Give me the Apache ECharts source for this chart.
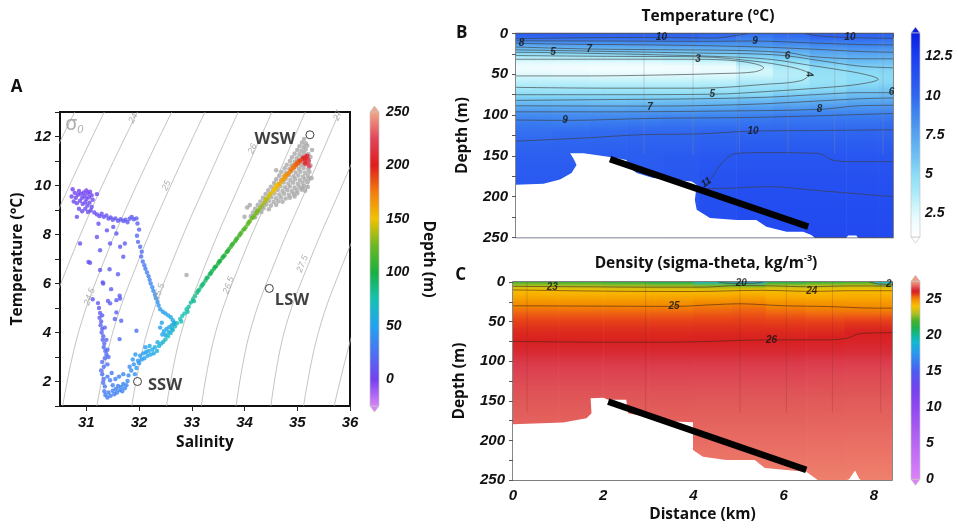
<!DOCTYPE html>
<html><head><meta charset="utf-8">
<script src="https://cdn.jsdelivr.net/npm/echarts@6/dist/echarts.min.js"></script>
<style>html,body{margin:0;padding:0;background:#fff}#c{width:958px;height:528px}</style>
</head><body><div id="c"></div>
<script>
// ---------------- Panel A data ----------------
const salTicks = [31,32,33,34,35,36];
const cbDepthTicks = [0,50,100,150,200,250];
const isoSigma = ['23','23.5','24','24.5','25','25.5','26','26.5','27','27.5','28','28.5'];
const isoLines = [
 [[29.5,7],[30.1,10],[30.78,13]],
 [[29.6,4],[30.08,7],[30.68,10],[31.34,13]],
 [[29.9,1],[30.2,4],[30.7,7],[31.3,10],[31.97,13]],
 [[30.55,1],[30.85,4],[31.35,7],[31.95,10],[32.62,13]],
 [[31.2,1],[31.5,4],[32.0,7],[32.6,10],[33.25,13]],
 [[31.86,1],[32.15,4],[32.65,7],[33.25,10],[33.88,13]],
 [[32.52,1],[32.8,4],[33.3,7],[33.9,10],[34.52,13]],
 [[33.18,1],[33.45,4],[33.95,7],[34.55,10],[35.15,13]],
 [[33.84,1],[34.1,4],[34.6,7],[35.2,10],[35.8,13]],
 [[34.5,1],[34.75,4],[35.25,7],[35.85,10],[36.45,13]],
 [[35.12,1],[35.4,4],[35.9,7],[36.5,10]],
 [[35.7,1],[36.05,4],[36.5,7]]
];
const isoLabelText = ['24','25','26','27','24.5','25.5','26.5','27.5'];
const isoLabelPos = [[31.89,12.75],[32.52,10.0],[34.15,11.5],[35.77,12.85],[31.06,5.46],[32.38,5.66],[33.7,5.93],[35.1,6.8]];
const isoLabelRot = [64,66,66,64,70,70,70,68];

const tsGray = [
[34.0,8.72],[34.12,8.75],[34.2,8.7],
[34.16,8.9],[34.24,8.86],[34.32,8.92],
[34.2,9.05],[34.28,9.02],[34.36,9.07],[34.46,9.03],
[34.25,9.2],[34.33,9.17],[34.41,9.22],[34.5,9.18],[34.6,9.21],
[34.3,9.35],[34.38,9.32],[34.46,9.37],[34.55,9.33],[34.64,9.36],[34.72,9.34],
[34.35,9.5],[34.43,9.47],[34.51,9.52],[34.6,9.48],[34.69,9.51],[34.78,9.47],[34.86,9.5],
[34.4,9.65],[34.48,9.62],[34.57,9.67],[34.66,9.63],[34.75,9.66],[34.84,9.62],[34.93,9.65],[35.0,9.68],
[34.45,9.8],[34.54,9.77],[34.63,9.82],[34.72,9.78],[34.81,9.81],[34.9,9.77],[34.99,9.8],[35.08,9.83],[35.15,9.79],
[34.5,9.95],[34.59,9.92],[34.68,9.97],[34.77,9.93],[34.86,9.96],[34.95,9.92],[35.04,9.95],[35.13,9.98],[35.2,9.94],
[34.56,10.1],[34.65,10.07],[34.74,10.12],[34.83,10.08],[34.92,10.11],[35.01,10.07],[35.1,10.1],[35.19,10.13],
[34.6,10.25],[34.69,10.22],[34.78,10.27],[34.87,10.23],[34.96,10.26],[35.05,10.22],[35.14,10.25],[35.22,10.28],
[34.66,10.4],[34.75,10.37],[34.84,10.42],[34.93,10.38],[35.02,10.41],[35.11,10.37],[35.2,10.4],
[34.7,10.55],[34.79,10.52],[34.88,10.57],[34.97,10.53],[35.06,10.56],[35.15,10.52],[35.23,10.55],
[34.76,10.7],[34.85,10.67],[34.94,10.72],[35.03,10.68],[35.12,10.71],[35.21,10.67],
[34.8,10.85],[34.89,10.82],[34.98,10.87],[35.07,10.83],[35.16,10.86],[35.25,10.82],
[34.86,11.0],[34.95,10.97],[35.04,11.02],[35.13,10.98],[35.22,11.01],
[34.9,11.15],[34.99,11.12],[35.08,11.17],[35.17,11.13],[35.25,11.16],
[34.95,11.3],[35.04,11.27],[35.13,11.32],[35.21,11.28],
[35.0,11.45],[35.08,11.42],[35.16,11.47],
[35.04,11.6],[35.12,11.57],[35.19,11.62],
[35.09,11.75],[35.16,11.72],[35.13,11.9],
[32.9,6.35],[34.05,9.1],[34.1,9.2],[35.28,11.45],[35.27,10.3],[34.6,10.62],[35.1,9.9],[34.95,9.55]
];

// [salinity, temperature, depth]
const tsColor = [
[30.72,9.55,1],[30.74,9.85,1],[30.78,9.7,2],[30.8,9.5,2],[30.84,9.62,1],[30.86,9.78,2],[30.9,9.66,2],[30.92,9.5,3],[30.95,9.72,1],[30.97,9.58,2],[31.0,9.8,1],[31.0,9.45,3],[31.03,9.68,2],[31.05,9.52,3],[31.07,9.75,2],[31.1,9.6,3],[31.12,9.42,4],[31.2,9.65,3],[30.76,9.35,4],[30.82,9.28,4],[30.88,9.38,3],[30.93,9.25,4],[30.98,9.32,4],[31.02,9.18,5],[31.06,9.3,4],[31.1,9.12,5],[30.86,9.05,5],[30.92,8.95,6],[30.98,9.05,5],[31.03,8.92,6],[31.08,8.98,6],[31.15,8.9,7],
[31.2,8.82,7],[31.25,8.75,8],[31.29,8.85,8],[31.33,8.72,9],[31.38,8.78,9],[31.42,8.65,10],[31.46,8.7,10],[31.5,8.6,11],[31.55,8.66,11],[31.6,8.56,12],[31.65,8.62,12],[31.7,8.55,13],[31.74,8.6,13],[31.78,8.5,14],[31.82,8.64,14],[31.86,8.72,15],[31.9,8.62,15],[31.95,8.66,16],[31.97,8.45,17],
[30.82,8.72,6],[30.88,7.63,8],[31.04,6.88,10],[31.2,7.9,9],[31.26,7.36,11],[31.23,8.44,8],[31.39,8.17,10],[31.51,8.31,11],[31.57,8.04,12],[31.45,7.63,12],[31.64,7.5,13],[31.7,7.09,14],[31.26,6.55,12],[31.32,6.0,13],[31.57,5.32,15],[31.64,5.39,15],[31.45,5.19,14],[31.73,7.63,14],[31.07,6.85,10],[31.31,6.04,13],[31.44,6.58,13],[31.6,6.38,14],[31.63,5.5,15],[31.57,4.82,17],[31.66,4.48,18],[31.63,3.73,21],[31.95,4.07,24],[31.54,4.55,17],[31.12,5.36,12],[31.41,5.29,14],[31.47,5.77,14],
[31.24,5.0,12],[31.26,4.8,13],[31.25,4.6,14],[31.28,4.45,15],[31.27,4.3,15],[31.3,4.15,16],[31.29,4.0,17],[31.32,3.85,18],[31.31,3.7,18],[31.34,3.55,19],[31.33,3.4,20],[31.36,3.25,21],[31.38,3.1,22],[31.35,2.95,22],[31.3,2.8,22],[31.33,2.6,23],[31.28,2.45,23],[31.3,2.3,24],[31.33,2.1,25],[31.32,1.95,26],[31.35,1.8,27],[31.34,1.6,28],[31.36,1.45,29],[31.4,1.35,30],[31.22,5.2,12],[31.3,4.7,14],[31.35,4.2,17],[31.38,3.7,19],[31.4,3.3,21],[31.42,3.0,23],[31.4,2.7,24],
[31.42,1.55,30],[31.46,1.42,31],[31.5,1.62,31],[31.53,1.48,32],[31.56,1.7,32],[31.58,1.55,33],[31.6,1.82,33],[31.63,1.65,34],[31.66,1.78,34],[31.68,1.6,35],[31.7,1.9,35],[31.73,1.72,36],[31.76,1.85,36],[31.78,2.02,37],[31.5,1.85,31],[31.45,2.05,30],[31.55,2.1,32],[31.62,2.2,33],[31.4,2.2,29],[31.48,2.35,30],[31.7,2.3,35],[31.8,2.25,38],[31.85,2.45,40],[31.9,2.7,41],[31.88,2.9,42],[31.92,2.3,41],[31.95,2.55,43],[31.98,2.85,44],[31.82,2.6,39],[31.93,3.1,44],
[32.0,2.75,45],[32.02,3.05,46],[32.05,2.9,47],[32.08,3.15,48],[32.1,2.95,49],[32.13,3.2,50],[32.16,3.05,51],[32.18,3.25,52],[32.22,3.1,54],[32.25,3.3,55],[32.28,3.15,57],[32.3,3.4,58],[32.34,3.25,60],[32.38,3.45,62],[32.42,3.55,63],[32.46,3.62,64],[32.5,3.72,66],[32.55,3.85,67],[32.6,3.98,69],[32.64,4.1,70],[32.68,4.25,71],[32.72,4.38,72],[32.2,3.45,53],[32.35,3.6,58],[32.12,3.4,50],
[32.0,8.2,18],[31.96,7.95,19],[31.98,7.7,20],[32.02,7.5,21],[32.05,7.3,22],[32.04,7.1,24],[32.07,6.9,26],[32.1,6.75,28],[32.12,6.6,30],[32.15,6.45,32],[32.18,6.3,33],[32.2,6.15,34],[32.22,6.0,35],[32.25,5.85,37],[32.27,5.7,38],[32.3,5.55,40],[32.32,5.4,41],[32.35,5.25,42],[32.37,5.1,43],[32.4,4.95,45],[32.45,4.85,46],[32.5,4.78,48],[32.55,4.7,50],[32.6,4.62,52],[32.64,4.5,54],[32.67,4.4,55],[32.62,4.3,56],[32.57,4.22,55],[32.52,4.15,54],[32.47,4.05,53],[32.44,3.92,52],[32.5,3.9,56],[32.56,4.02,58],[32.62,4.15,60],[32.66,4.35,62],[32.43,4.4,50],[32.4,4.2,48],
[32.78,4.55,73],[32.82,4.68,74],[32.86,4.78,75],[32.9,4.95,77],[32.94,5.05,78],[32.98,5.22,80],[33.02,5.35,81],[33.06,5.48,83],[33.1,5.62,84],[33.14,5.75,86],[33.18,5.88,87],[33.22,6.0,89],[33.26,6.12,90],[33.3,6.25,92],[33.34,6.38,93],[33.38,6.5,95],[33.42,6.6,96],[33.46,6.7,98],[33.5,6.82,99],[33.54,6.93,101],[33.58,7.05,102],[33.62,7.15,104],[33.66,7.28,105],[33.7,7.4,107],[33.74,7.5,108],[33.78,7.62,110],[33.82,7.72,111],[33.86,7.85,113],[33.9,7.96,114],[33.94,8.08,116],[33.98,8.2,117],[34.02,8.3,119],[34.06,8.42,120],[34.1,8.54,122],[34.14,8.66,123],[34.18,8.76,125],[34.22,8.88,127],[34.26,8.98,129],[34.3,9.1,131],
[32.8,4.45,73],[32.92,4.85,77],[33.04,5.28,82],[33.12,5.7,85],[33.2,5.95,88],[33.28,6.22,91],[33.36,6.42,94],[33.44,6.68,97],[33.52,6.9,100],[33.6,7.1,103],[33.68,7.32,106],[33.76,7.58,109],[33.84,7.8,112],[33.92,8.02,115],[34.0,8.22,118],[34.08,8.5,121],[34.16,8.7,124],[34.24,8.95,128],
[34.34,9.2,134],[34.38,9.32,137],[34.42,9.44,140],[34.46,9.55,143],[34.5,9.66,146],[34.54,9.76,149],[34.58,9.86,152],[34.62,9.96,155],[34.66,10.06,158],[34.7,10.16,161],[34.74,10.26,164],[34.78,10.36,167],[34.82,10.46,170],[34.86,10.55,173],[34.9,10.65,176],[34.94,10.74,179],[34.98,10.83,182],[35.02,10.92,186],[35.06,11.0,190],[35.1,11.08,195],
[34.4,9.45,139],[34.48,9.65,145],[34.56,9.85,151],[34.64,10.05,157],[34.72,10.25,163],[34.8,10.45,169],[34.88,10.65,175],[34.96,10.85,181],[35.04,11.02,188],[34.6,10.0,152],[34.76,10.4,165],[34.92,10.78,177],[35.0,10.95,183],
[35.12,11.15,200],[35.15,11.05,205],[35.17,11.2,210],[35.18,10.95,214],[35.2,11.1,218],[35.21,10.85,220],[35.22,11.0,224],[35.14,10.9,202],[35.19,11.22,212],[35.23,10.78,226],[35.16,11.12,208]
];
const wmNames = ['WSW','LSW','SSW'];
const wmSal = [35.24,34.47,31.97];
const wmTemp = [12.07,5.8,2.0];

// ---------------- Sections B & C ----------------
const levels = [0,5,10,15,20,25,30,35,40,45,50,55,60,65,70,75,80,90,100,110,120,135,150,175,200,225,250];
const bDist = [0.4,1.2,2.0,2.8,3.6,4.4,5.2,6.0,6.8,7.6,8.2];
const bTemp = [
 [10.6,10.0,8.6,7.3,6.2,5.0,3.6,2.5,2.0,2.0,2.4,3.1,3.5,3.9,4.4,5.0,5.8,7.2,8.6,9.3,9.7,10.1,10.5,10.8,10.9,11.0,11.0],
 [10.6,10.0,8.7,7.5,6.4,5.1,3.7,2.5,1.9,1.9,2.3,3.0,3.5,3.9,4.4,5.0,5.8,7.1,8.5,9.2,9.8,10.2,10.5,10.8,10.9,11.0,11.0],
 [10.5,10.0,8.8,7.6,6.5,5.2,3.8,2.4,1.8,1.8,2.2,2.9,3.4,3.9,4.4,5.0,5.7,7.0,8.5,9.3,9.9,10.3,10.6,10.8,10.9,11.0,11.0],
 [10.5,10.1,8.9,7.7,6.6,5.4,3.9,2.5,1.8,1.8,2.2,2.9,3.4,3.9,4.4,5.0,5.8,7.1,8.6,9.4,10.0,10.4,10.6,10.8,10.9,11.0,11.0],
 [10.5,10.0,8.9,7.8,6.7,5.6,4.1,2.7,1.9,1.9,2.3,2.9,3.4,3.9,4.4,5.0,5.8,7.2,8.7,9.5,10.0,10.4,10.7,10.9,11.0,11.1,11.2],
 [10.2,9.7,8.8,7.8,6.8,5.8,4.4,3.0,2.2,2.1,2.4,3.0,3.5,4.0,4.5,5.1,5.9,7.3,8.8,9.5,10.1,10.5,10.9,11.2,11.4,11.5,11.6],
 [9.9,9.2,8.6,8.0,7.0,6.0,5.2,4.2,3.2,2.8,2.9,3.4,3.9,4.3,4.8,5.2,6.1,7.6,9.0,9.6,10.1,10.6,11.0,11.3,11.5,11.7,11.8],
 [10.1,9.6,9.0,8.2,7.3,6.5,5.6,4.7,4.0,3.7,3.6,3.7,4.0,4.5,5.0,5.7,6.4,7.8,9.2,9.7,10.1,10.6,11.0,11.3,11.5,11.7,11.8],
 [10.5,10.1,9.3,8.6,7.8,7.2,6.6,5.9,5.2,4.8,4.6,4.5,4.6,4.9,5.3,5.9,6.6,8.0,9.1,9.7,10.1,10.6,11.0,11.3,11.5,11.7,11.8],
 [10.4,10.0,9.4,8.8,8.1,7.5,6.9,6.3,5.6,5.2,4.95,4.9,5.0,5.3,5.8,6.3,7.0,8.1,9.1,9.7,10.1,10.6,11.0,11.3,11.5,11.7,11.8],
 [10.3,9.9,9.3,8.7,8.0,7.4,6.8,6.2,5.7,5.3,5.1,5.05,5.2,5.6,6.0,6.5,7.1,8.2,9.2,9.8,10.1,10.6,11.0,11.3,11.5,11.7,11.8]
];
const cDist = [0.5,1.5,2.5,3.5,4.5,5.2,6.0,7.0,7.7,8.3];
const cDens = [
 [21.8,23.1,23.95,24.3,24.55,24.8,25.0,25.2,25.38,25.52,25.65,25.75,25.84,25.91,25.96,26.0,26.1,26.28,26.42,26.5,26.56,26.63,26.7,26.8,26.9,27.0,27.1],
 [21.6,23.0,23.9,24.28,24.55,24.8,24.98,25.2,25.38,25.52,25.65,25.75,25.84,25.9,25.95,25.99,26.1,26.28,26.42,26.5,26.56,26.63,26.7,26.8,26.9,27.0,27.1],
 [21.4,22.9,23.85,24.28,24.55,24.8,24.98,25.2,25.38,25.52,25.65,25.75,25.84,25.9,25.95,25.99,26.09,26.27,26.41,26.49,26.56,26.63,26.7,26.8,26.9,27.0,27.1],
 [21.0,22.8,23.85,24.3,24.58,24.82,25.0,25.2,25.38,25.52,25.65,25.75,25.84,25.9,25.95,25.99,26.09,26.27,26.41,26.49,26.56,26.63,26.7,26.8,26.9,27.0,27.1],
 [19.5,22.6,23.8,24.3,24.62,24.9,25.1,25.28,25.42,25.55,25.67,25.77,25.85,25.92,25.97,26.01,26.1,26.28,26.42,26.5,26.57,26.64,26.71,26.81,26.91,27.0,27.1],
 [18.5,22.5,23.9,24.35,24.65,24.95,25.15,25.32,25.45,25.57,25.68,25.78,25.86,25.92,25.97,26.01,26.1,26.28,26.42,26.5,26.57,26.64,26.71,26.81,26.91,27.0,27.1],
 [21.0,23.0,23.85,24.25,24.52,24.78,24.98,25.18,25.37,25.52,25.65,25.76,25.85,25.92,25.97,26.01,26.1,26.28,26.42,26.5,26.57,26.64,26.71,26.81,26.91,27.0,27.1],
 [21.5,23.2,23.9,24.25,24.5,24.72,24.92,25.1,25.3,25.47,25.62,25.74,25.84,25.92,26.0,26.05,26.13,26.3,26.44,26.52,26.58,26.65,26.72,26.82,26.92,27.01,27.1],
 [21.8,23.3,24.0,24.3,24.5,24.7,24.9,25.08,25.3,25.5,25.68,25.82,25.93,26.0,26.05,26.1,26.18,26.32,26.45,26.53,26.59,26.66,26.73,26.83,26.93,27.02,27.1],
 [19.0,23.0,24.0,24.3,24.5,24.7,24.88,25.06,25.28,25.5,25.68,25.82,25.93,26.0,26.05,26.1,26.18,26.32,26.45,26.53,26.59,26.66,26.73,26.83,26.93,27.02,27.1]
];
const depthTicks = [0,50,100,150,200,250];
const cbTempTicks = [2.5,5,7.5,10,12.5];
const cbDensTicks = [0,5,10,15,20,25];

const bMask = [[0,185.5],[0.6,184],[0.96,179],[1.21,171],[1.32,161],[1.25,153],[1.18,146.6],[1.47,146.6],[2.05,151.5],[2.41,155],[2.45,163],[2.63,171],[2.99,177],[3.36,179],[3.83,181.4],[3.94,185.5],[3.9,204],[3.94,216],[4.23,226],[4.81,228.5],[5.24,228.5],[5.46,236.7],[5.9,243],[6.26,243],[6.44,247],[6.55,252],[0,252]];
const bBump = [[7.18,252],[7.24,247.5],[7.42,247.5],[7.48,252]];
const cMask = [[0,179.6],[1.11,177.5],[1.63,172],[1.74,165.7],[1.72,146.7],[2.0,146],[2.11,148.8],[2.51,148.8],[2.55,165.7],[3.1,172],[3.55,176],[3.99,177],[3.99,212],[4.21,220.5],[4.73,224.7],[5.36,224.7],[5.58,235],[6.06,237.3],[6.5,239.5],[6.73,249],[6.8,252],[0,252]];
const cBump = [[7.3,252],[7.45,249],[7.58,238],[7.68,249],[7.78,252]];
const bSlope = [[2.05,154],[6.37,236.7]];
const cSlope = [[2.11,151],[6.5,237.3]];
const bStations = [2.79,3.86,4.87,5.93,6.95,8.0];
const cStations = [0.31,2.94,5.03,6.06,7.08,8.15];

const bContours = [
 [[0,6.5],[1.5,5.2],[3.17,4.9],[4.3,5.6],[4.8,2.5],[5.05,0]],
 [[6.3,0],[6.6,3],[7.28,5],[8.22,6]],
 [[0,9],[2,9.2],[4,9.6],[5.21,9.2],[6.4,11.5],[7.5,13.5],[8.22,14]],
 [[0,11.9],[1,13],[3,14],[5,16],[6.4,19],[7.5,22],[8.22,23]],
 [[0,16.5],[1.6,19],[3.5,20],[5.0,21],[6.0,24],[6.4,28],[7.5,31],[8.22,31]],
 [[0,20],[2,22],[4,24],[5.2,25],[5.92,27.5],[6.6,33],[7.5,40],[8.22,42]],
 [[0,23],[0.81,23.5],[3,26],[4.8,29],[5.6,32],[6.3,38],[7.0,44],[7.6,50],[7.9,56],[7.5,62],[6.8,66],[5.5,71],[4.28,74.4],[2,75],[0,75]],
 [[0,27],[2,28],[4,28.5],[5.2,34],[5.9,40],[6.3,46],[6.39,50],[6.2,58],[5.5,62],[4,67],[2,67],[0,66]],
 [[0,31.6],[2,31.5],[3.97,31.6],[4.7,33],[5.2,37],[5.4,42],[5.2,47],[4.5,49],[3,51],[1.5,52],[0,52]],
 [[0,82],[2,81],[4,80],[5.5,78],[6.5,75],[7.5,72.5],[8.22,72.5]],
 [[0,88.6],[2.92,89],[5,87],[6.5,83],[7.5,80],[8.22,79]],
 [[0,96],[2,96],[4.5,95],[6.62,93],[7.5,88.5],[8.22,88]],
 [[0,106],[1.07,106.5],[3,104],[5,103],[6.5,101],[8.22,98]],
 [[0,132],[1.5,128],[2.77,124],[4,123],[5.17,119.6],[6.5,119],[8.22,118]],
 [[4.1,186],[4.25,178],[4.5,158],[4.8,147],[5.5,146],[6.6,147],[6.9,155],[7.3,157],[8.22,157]],
 [[3.94,190],[4.66,189.6],[5.53,187.6],[6.4,191.6],[8.22,200]]
];
const bLabelText = ['10','9','8','5','7','3','6','4','5','7','8','9','10','10','6','11'];
const bLabelPos = [[3.17,4.9],[5.21,9],[0.12,11.9],[0.81,23],[1.6,19],[3.97,31.6],[5.92,27.5],[6.39,50],[4.28,74.4],[2.92,90],[6.62,93],[1.07,106.5],[5.17,119.6],[7.28,5],[8.19,72.5],[4.15,182.6]];
const bLabelRot = [0,0,0,0,0,0,0,-80,0,0,0,0,0,0,0,35];

const cContours = [
 [[4.55,0],[4.8,1.6],[5.3,1.6],[5.55,0]],
 [[7.9,0],[8.1,2.5],[8.4,3]],
 [[0,5.5],[1.5,6],[3,6.5],[4.2,6.5],[5,4.5],[5.8,5],[6.5,6],[7.5,5],[8.4,5]],
 [[0,10],[2,11.5],[4,12],[5.5,10.5],[6.62,11.8],[7.5,11],[8.4,11]],
 [[0,30],[2,30.5],[3.57,30.8],[4.5,28.5],[5,27.5],[6,30],[7,31],[8,33],[8.4,33]],
 [[0,75],[2,76],[3.5,76],[5.73,73],[7.0,73],[7.4,71],[7.7,65],[8.4,64]]
];
const cLabelText = ['23','20','24','25','26','2'];
const cLabelPos = [[0.87,6.3],[5.06,1.3],[6.62,11.8],[3.57,30.8],[5.73,73],[8.33,3]];

// ---------------- colour scales (style) ----------------
const depthStops = [[-25,'#d884f6'],[0,'#7440f0'],[25,'#4c72f2'],[50,'#22a2f0'],[75,'#14c2b4'],[100,'#18b040'],[125,'#6cb820'],[150,'#f2c200'],[175,'#f27c0e'],[200,'#e01c1c'],[225,'#e0465a'],[250,'#f2a888']];
const tempStops = [[1,'#ffffff'],[2,'#eefcfe'],[3,'#cdf5fb'],[4,'#a6e8f8'],[5,'#8cdcf6'],[6,'#72c4f4'],[7.5,'#56a4f0'],[9,'#3c82f0'],[10,'#3068f0'],[11,'#2856f0'],[12,'#2046f0'],[12.5,'#1c3ef0'],[14,'#0a1ee2']];
const densStops = [[0,'#dc82f8'],[5,'#b866f4'],[10,'#9048f0'],[12.5,'#7442f0'],[15,'#4c5cf0'],[17.5,'#2898ee'],[19,'#12b8d2'],[20,'#10b898'],[21,'#1eb050'],[22,'#48b22c'],[23,'#b0c020'],[24,'#f8c000'],[24.5,'#f8a800'],[25,'#f28800'],[25.3,'#f06a10'],[25.6,'#e84418'],[26,'#d82020'],[26.3,'#d82c38'],[26.5,'#dc4050'],[26.7,'#e05858'],[26.9,'#e86a62'],[27.1,'#ee806c'],[27.6,'#f2a488']];

function hex2rgb(h){return [parseInt(h.slice(1,3),16),parseInt(h.slice(3,5),16),parseInt(h.slice(5,7),16)];}
function makePal(stops){
  const s = stops.map(function(p){return [p[0],hex2rgb(p[1])];});
  const f = function(c){return 'rgb('+Math.round(c[0])+','+Math.round(c[1])+','+Math.round(c[2])+')';};
  return function(v){
    if (v <= s[0][0]) return f(s[0][1]);
    for (let i=1;i<s.length;i++){
      if (v <= s[i][0]){
        const t=(v-s[i-1][0])/(s[i][0]-s[i-1][0]); const a=s[i-1][1], b=s[i][1];
        return f([a[0]+(b[0]-a[0])*t, a[1]+(b[1]-a[1])*t, a[2]+(b[2]-a[2])*t]);
      }
    }
    return f(s[s.length-1][1]);
  };
}
const palA = makePal(depthStops), palB = makePal(tempStops), palC = makePal(densStops);

const NUM = 'Liberation Sans', TXT = 'Open Sans';
function numLabel(size, extra){ return Object.assign({fontFamily:NUM, fontSize:size, fontWeight:'bold', fontStyle:'italic', color:'#111'}, extra||{}); }
const nameStyle = {fontFamily:TXT, fontWeight:'bold', fontSize:15.5, color:'#111'};

function fieldRender(dists, vals, pal, xmax){
  return function(params, api){
    const i = params.dataIndex;
    const x0 = i===0 ? 0 : (dists[i-1]+dists[i])/2;
    const x1 = i===dists.length-1 ? xmax : (dists[i]+dists[i+1])/2;
    const p0 = api.coord([x0, 0]), p1 = api.coord([x1, 250]);
    const stops = levels.map(function(d,k){ return {offset:d/250, color:pal(vals[i][k])}; });
    return {type:'rect', shape:{x:p0[0], y:p0[1], width:p1[0]-p0[0]+0.6, height:p1[1]-p0[1]},
      style:{fill:new echarts.graphic.LinearGradient(0,0,0,1,stops)}};
  };
}
function maskRender(poly, bump){
  return function(params, api){
    return {type:'group', children:[
      {type:'polygon', shape:{points:poly.map(function(p){return api.coord(p);})}, style:{fill:'#fff'}},
      {type:'polygon', shape:{points:bump.map(function(p){return api.coord(p);})}, style:{fill:'#fff'}}
    ]};
  };
}
function cbarRender(stops, min, max, pal){
  return function(params, api){
    const tl = api.coord([0,max]), br = api.coord([1,min]);
    const x0=tl[0], x1=br[0], y0=tl[1], y1=br[1];
    const gs = [{offset:0,color:pal(max)}];
    stops.forEach(function(s){ if(s[0]>min && s[0]<max) gs.push({offset:(max-s[0])/(max-min), color:s[1]}); });
    gs.push({offset:1,color:pal(min)});
    gs.sort(function(a,b){return a.offset-b.offset;});
    const st = {stroke:'#c4c4c4', lineWidth:0.7};
    return {type:'group', children:[
      {type:'polygon', shape:{points:[[x0,y0],[(x0+x1)/2,y0-6],[x1,y0]]}, style:Object.assign({fill:pal(max)},st)},
      {type:'polygon', shape:{points:[[x0,y1],[(x0+x1)/2,y1+6],[x1,y1]]}, style:Object.assign({fill:pal(min)},st)},
      {type:'rect', shape:{x:x0,y:y0,width:x1-x0,height:y1-y0}, style:Object.assign({fill:new echarts.graphic.LinearGradient(0,0,0,1,gs)},st)}
    ]};
  };
}
function labelSeries(xi, texts, pos, rots, style){
  return {type:'scatter', xAxisIndex:xi, yAxisIndex:xi, symbolSize:0.1, silent:true, z:8,
    itemStyle:{color:'rgba(0,0,0,0)'},
    data: texts.map(function(t,k){ return {value:pos[k], name:t, label:{rotate: rots ? rots[k] : 0}}; }),
    label: Object.assign({show:true, position:'inside', formatter:'{b}'}, style)};
}

const series = [];
// Panel A
isoLines.forEach(function(pts, k){
  series.push({type:'line', name:'σ'+isoSigma[k], xAxisIndex:0, yAxisIndex:0, data:pts, smooth:0.4, symbol:'none', silent:true, z:1,
    lineStyle:{color:'#b4b4b4', width:0.8}});
});
series.push(labelSeries(0, isoLabelText, isoLabelPos, isoLabelRot, {fontFamily:NUM, fontSize:9, fontStyle:'italic', color:'#9a9a9a'}));
series.push({type:'scatter', xAxisIndex:0, yAxisIndex:0, symbolSize:0.1, silent:true, itemStyle:{color:'rgba(0,0,0,0)'},
  data:[{value:[30.6,12.45], name:'σ0'}],
  label:{show:true, position:'right', distance:0, formatter:'{s|σ}{b|0}',
    rich:{s:{fontFamily:'DejaVu Sans', fontSize:19, color:'#9a9a9a'}, b:{fontFamily:NUM, fontSize:11, fontStyle:'italic', color:'#9a9a9a', verticalAlign:'bottom', padding:[8,0,0,0]}}}});
series.push({type:'scatter', xAxisIndex:0, yAxisIndex:0, data:tsGray, symbolSize:4.6, silent:true, z:2,
  itemStyle:{color:'#a9a9a9'}});
series.push({type:'scatter', xAxisIndex:0, yAxisIndex:0, data:tsColor, symbolSize:4.4, silent:true, z:3,
  itemStyle:{color:function(p){return palA(p.data[2]);}}});
series.push({type:'scatter', xAxisIndex:0, yAxisIndex:0, symbol:'circle', symbolSize:8, z:5, silent:true,
  itemStyle:{color:'#fff', borderColor:'#111', borderWidth:1},
  data: wmNames.map(function(n,k){
    const lab = k===0 ? {position:'left', distance:10, offset:[0,5]} : (k===1 ? {position:'right', distance:1, offset:[0,12]} : {position:'right', distance:6, offset:[0,4]});
    return {value:[wmSal[k], wmTemp[k]], name:n, label:lab};
  }),
  label:{show:true, formatter:'{b}', fontFamily:TXT, fontWeight:'bold', fontSize:16.5, color:'#111'}});
series.push({type:'custom', xAxisIndex:1, yAxisIndex:1, data:[[0.5,0]], renderItem:cbarRender(depthStops,-25,250,palA), silent:true});

// Panel B
series.push({type:'custom', xAxisIndex:2, yAxisIndex:2, data:bDist.map(function(d){return [d,0];}), clip:true, silent:true, z:1,
  renderItem:fieldRender(bDist, bTemp, palB, 8.22)});
bStations.forEach(function(x){
  series.push({type:'line', xAxisIndex:2, yAxisIndex:2, data:[[x,0],[x,148]], symbol:'none', silent:true, z:2,
    lineStyle:{color:'rgba(140,140,150,0.35)', width:1}});
});
bContours.forEach(function(pts){
  series.push({type:'line', xAxisIndex:2, yAxisIndex:2, data:pts, smooth:0.35, symbol:'none', silent:true, z:3,
    lineStyle:{color:'#3e3e3e', width:0.75, opacity:0.85}});
});
series.push({type:'custom', xAxisIndex:2, yAxisIndex:2, data:[[0,0]], clip:true, silent:true, z:4, renderItem:maskRender(bMask,bBump)});
series.push({type:'line', xAxisIndex:2, yAxisIndex:2, data:bSlope, symbol:'none', silent:true, z:6, lineStyle:{color:'#000', width:6.5, cap:'butt'}});
series.push(labelSeries(2, bLabelText, bLabelPos, bLabelRot, {fontFamily:NUM, fontSize:10, fontWeight:'bold', fontStyle:'italic', color:'#111'}));
series.push({type:'custom', xAxisIndex:3, yAxisIndex:3, data:[[0.5,1]], renderItem:cbarRender(tempStops,1,14,palB), silent:true});

// Panel C
series.push({type:'custom', xAxisIndex:4, yAxisIndex:4, data:cDist.map(function(d){return [d,0];}), clip:true, silent:true, z:1,
  renderItem:fieldRender(cDist, cDens, palC, 8.4)});
cStations.forEach(function(x){
  series.push({type:'line', xAxisIndex:4, yAxisIndex:4, data:[[x,0],[x,165]], symbol:'none', silent:true, z:2,
    lineStyle:{color:'rgba(120,40,40,0.22)', width:1}});
});
cContours.forEach(function(pts){
  series.push({type:'line', xAxisIndex:4, yAxisIndex:4, data:pts, smooth:0.35, symbol:'none', silent:true, z:3,
    lineStyle:{color:'#4a2418', width:0.75, opacity:0.8}});
});
series.push({type:'custom', xAxisIndex:4, yAxisIndex:4, data:[[0,0]], clip:true, silent:true, z:4, renderItem:maskRender(cMask,cBump)});
series.push({type:'line', xAxisIndex:4, yAxisIndex:4, data:cSlope, symbol:'none', silent:true, z:6, lineStyle:{color:'#000', width:6.5, cap:'butt'}});
series.push(labelSeries(4, cLabelText, cLabelPos, null, {fontFamily:NUM, fontSize:10, fontWeight:'bold', fontStyle:'italic', color:'#111'}));
series.push({type:'custom', xAxisIndex:5, yAxisIndex:5, data:[[0.5,0]], renderItem:cbarRender(densStops,0,27.5,palC), silent:true});

const hiddenX = function(g){ return {gridIndex:g, type:'value', min:0, max:1, show:false}; };
const option = {
  animation:false,
  backgroundColor:'#fff',
  grid:[
    {left:60, top:112, width:290, height:294, show:true, borderColor:'#111', borderWidth:2, backgroundColor:'rgba(0,0,0,0)', outerBoundsMode:'none'},
    {left:370, top:112, width:9, height:294, outerBoundsMode:'none'},
    {left:516, top:33.5, width:377, height:204, show:true, borderColor:'#555', borderWidth:1.4, backgroundColor:'rgba(0,0,0,0)', outerBoundsMode:'none'},
    {left:911, top:33, width:9, height:204, outerBoundsMode:'none'},
    {left:513, top:282, width:379, height:198, show:true, borderColor:'#555', borderWidth:1.4, backgroundColor:'rgba(0,0,0,0)', outerBoundsMode:'none'},
    {left:911, top:281.3, width:9, height:198, outerBoundsMode:'none'}
  ],
  xAxis:[
    {gridIndex:0, type:'value', min:30.5, max:36, interval:0.5, axisLine:{show:false}, splitLine:{show:false},
     axisTick:{show:true, length:5, customValues:salTicks, lineStyle:{color:'#222'}},
     axisLabel:numLabel(15, {customValues:salTicks, margin:9, formatter:function(v){return salTicks.indexOf(v)>=0?String(v):'';}}),
     name:'Salinity', nameLocation:'middle', nameGap:29, nameMoveOverlap:false, nameTextStyle:nameStyle},
    hiddenX(1),
    {gridIndex:2, type:'value', min:0, max:8.22, interval:1, axisLine:{show:false}, splitLine:{show:false},
     axisTick:{show:true, length:4, lineStyle:{color:'#555'}}, axisLabel:{show:false}},
    hiddenX(3),
    {gridIndex:4, type:'value', min:0, max:8.4, interval:1, axisLine:{show:false}, splitLine:{show:false},
     axisTick:{show:true, length:4, lineStyle:{color:'#555'}},
     axisLabel:numLabel(15, {margin:8, formatter:function(v){return v%2===0?String(v):'';}}),
     name:'Distance (km)', nameLocation:'middle', nameGap:27, nameMoveOverlap:false, nameTextStyle:nameStyle},
    hiddenX(5)
  ],
  yAxis:[
    {gridIndex:0, type:'value', min:1, max:13, interval:1, axisLine:{show:false}, splitLine:{show:false},
     axisTick:{show:true, length:5, lineStyle:{color:'#222'}},
     axisLabel:numLabel(15, {margin:9, formatter:function(v){return v%2===0?String(v):'';}}),
     name:'Temperature (°C)', nameLocation:'middle', nameGap:34, nameMoveOverlap:false, nameTextStyle:nameStyle},
    {gridIndex:1, type:'value', position:'right', min:-25, max:250, interval:25, axisLine:{show:false}, axisTick:{show:false}, splitLine:{show:false},
     axisLabel:numLabel(14, {customValues:cbDepthTicks, margin:7, formatter:function(v){return cbDepthTicks.indexOf(v)>=0?String(v):'';}}),
     name:'Depth (m)', nameLocation:'middle', nameRotate:-90, nameGap:41, nameMoveOverlap:false, nameTextStyle:nameStyle},
    {gridIndex:2, type:'value', inverse:true, min:0, max:250, interval:25, axisLine:{show:false}, splitLine:{show:false},
     axisTick:{show:true, length:4, lineStyle:{color:'#555'}},
     axisLabel:numLabel(15, {margin:8, formatter:function(v){return v%50===0?String(v):'';}}),
     name:'Depth (m)', nameLocation:'middle', nameGap:45, nameMoveOverlap:false, nameTextStyle:nameStyle},
    {gridIndex:3, type:'value', position:'right', min:1, max:14, interval:0.5, axisLine:{show:false}, axisTick:{show:false}, splitLine:{show:false},
     axisLabel:numLabel(14, {customValues:cbTempTicks, margin:5, formatter:function(v){return cbTempTicks.indexOf(v)>=0?String(v):'';}})},
    {gridIndex:4, type:'value', inverse:true, min:0, max:250, interval:25, axisLine:{show:false}, splitLine:{show:false},
     axisTick:{show:true, length:4, lineStyle:{color:'#555'}},
     axisLabel:numLabel(15, {margin:8, formatter:function(v){return v%50===0?String(v):'';}}),
     name:'Depth (m)', nameLocation:'middle', nameGap:45, nameMoveOverlap:false, nameTextStyle:nameStyle},
    {gridIndex:5, type:'value', position:'right', min:0, max:27.5, interval:2.5, axisLine:{show:false}, axisTick:{show:false}, splitLine:{show:false},
     axisLabel:numLabel(14, {customValues:cbDensTicks, margin:6, formatter:function(v){return cbDensTicks.indexOf(v)>=0?String(v):'';}})}
  ],
  graphic:[
    {type:'text', x:16.7, y:87, style:{text:'A', fontFamily:TXT, fontWeight:'bold', fontSize:17, fill:'#111', align:'center', verticalAlign:'middle'}},
    {type:'text', x:461.7, y:33, style:{text:'B', fontFamily:TXT, fontWeight:'bold', fontSize:17, fill:'#111', align:'center', verticalAlign:'middle'}},
    {type:'text', x:460.7, y:275, style:{text:'C', fontFamily:TXT, fontWeight:'bold', fontSize:17, fill:'#111', align:'center', verticalAlign:'middle'}},
    {type:'text', x:708, y:17, style:{text:'Temperature (°C)', fontFamily:TXT, fontWeight:'bold', fontSize:15.5, fill:'#111', align:'center', verticalAlign:'middle'}},
    {type:'text', x:706, y:264, style:{text:'{a|Density (sigma-theta, kg/m}{s|-3}{a|)}', align:'center', verticalAlign:'middle',
      rich:{a:{fontFamily:TXT, fontWeight:'bold', fontSize:15.5, fill:'#111', lineHeight:20},
            s:{fontFamily:TXT, fontWeight:'bold', fontSize:9, fill:'#111', lineHeight:10, verticalAlign:'top'}}}}
  ],
  series: series
};
const chart = echarts.init(document.getElementById('c'), null, {width:958, height:528});
chart.setOption(option);
</script></body></html>
